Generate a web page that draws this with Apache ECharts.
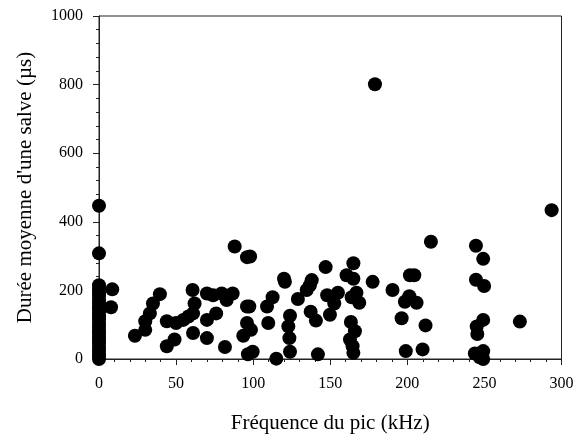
<!DOCTYPE html>
<html>
<head>
<meta charset="utf-8">
<script src="https://cdn.jsdelivr.net/npm/echarts@6/dist/echarts.min.js"></script>
<style>html,body{margin:0;padding:0;background:#fff}#c{width:581px;height:439px}</style>
</head>
<body>
<div id="c"></div>
<script>
var xTitle = "Fréquence du pic (kHz)";
var yTitle = "Durée moyenne d'une salve (µs)";
var xTicks = [0, 50, 100, 150, 200, 250, 300];
var yTicks = [0, 200, 400, 600, 800, 1000];

var freq = [
  0,0,0,0,0,0,0,0,0,0,0,0,0,0,0,0,0,0,0,0,0,0,0,0,0,
  8.6,7.8,23.3,30,30,33,35,39.5,44,44,49,50,54.7,58,61,62,60.7,61,70,70,70,76,74,79.6,82.8,86.7,81.7,88,96,96,96,93.6,96.6,
  98,97.5,98.6,99.7,115,109.8,109,112.6,120,120.6,123.9,122.8,123.5,123.9,129,134.7,138,136.8,137.3,140.7,142,147,148,155,152.6,149.8,
  160.6,165,165,167,163.9,168.8,163.4,166,162.8,164.5,165,177.5,179,190.4,196.3,198.4,201.7,199,
  293.6,215.3,244.5,249.2,244.5,249.8,204.5,201.3,206,211.8,209.9,273,249.2,245,245.4,243.8,249.2,249.2,247
];
var duree = [
  447,308,215,205,195,185,175,165,155,145,135,125,115,105,95,85,75,65,55,45,35,25,15,7,0,
  203,151,68,85,110,133,162,189,110,37,57,105,114,124,133,162,201,76,191,114,61,133,186,191,172,191,35,328,297,153,105,68,14,
  299,153,85,21,1,105,153,180,234,225,126,95,61,21,175,201,230,215,138,112,13.5,268,186,193,162,129,
  244,234,279,193,180,164,108,81,57,37,18,225,801,201,119,167,244,23,
  434,342,330,292,231,213,244,183,164,98,28,109,114,95,73,16,23,0,5
];

var pts = freq.map(function (f, i) { return [f, duree[i]]; });
var font = "Liberation Serif, Times New Roman, serif";
var chart = echarts.init(document.getElementById('c'));
chart.setOption({
  animation: false,
  backgroundColor: '#fff',
  grid: { left: 99, right: 19.5, top: 16, bottom: 76, show: true, borderColor: '#222', borderWidth: 1, backgroundColor: 'transparent' },
  xAxis: {
    type: 'value', min: xTicks[0], max: xTicks[xTicks.length - 1], interval: 50,
    name: xTitle, nameLocation: 'middle', nameGap: 54,
    nameTextStyle: { fontFamily: font, fontSize: 21, color: '#000' },
    axisLine: { onZero: false, lineStyle: { color: '#222', width: 1 } },
    axisTick: { show: true, inside: false, length: 6, lineStyle: { color: '#222' } },
    minorTick: { show: true, splitNumber: 5, length: 3, lineStyle: { color: '#222' } },
    splitLine: { show: false },
    axisLabel: { fontFamily: font, fontSize: 16, color: '#000', margin: 17, formatter: function (v) { return String(v); } }
  },
  yAxis: {
    type: 'value', min: yTicks[0], max: yTicks[yTicks.length - 1], interval: 200,
    name: yTitle, nameLocation: 'middle', nameGap: 63, nameRotate: 90,
    nameTextStyle: { fontFamily: font, fontSize: 21, color: '#000' },
    axisLine: { show: true, onZero: false, lineStyle: { color: '#222', width: 1 } },
    axisTick: { show: true, inside: false, length: 6, lineStyle: { color: '#222' } },
    minorTick: { show: true, splitNumber: 5, length: 3, lineStyle: { color: '#222' } },
    splitLine: { show: false },
    axisLabel: { fontFamily: font, fontSize: 16, color: '#000', margin: 16, formatter: function (v) { return String(v); } }
  },
  series: [{
    type: 'scatter', data: pts, symbol: 'circle', symbolSize: 14,
    itemStyle: { color: '#000', opacity: 1 }, clip: false
  }]
});
</script>
</body>
</html>
